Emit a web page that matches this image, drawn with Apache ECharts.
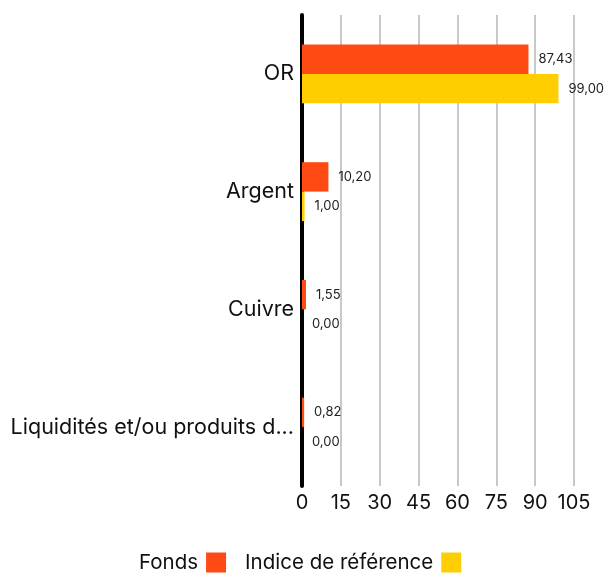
<!DOCTYPE html>
<html><head><meta charset="utf-8">
<script src="https://cdn.jsdelivr.net/npm/echarts@6/dist/echarts.min.js"></script>
<style>html,body{margin:0;padding:0;background:#fff}#c{width:606px;height:581px}</style>
</head><body><div id="c"></div>
<script>
const categories = ["OR", "Argent", "Cuivre", "Liquidités et/ou produits dérivés"];
const fonds = [87.43, 10.20, 1.55, 0.82];
const indice = [99.00, 1.00, 0.00, 0.00];
const xTicks = [0, 15, 30, 45, 60, 75, 90, 105];
const seriesNames = ["Fonds", "Indice de référence"];
const colors = ["#FF4A14", "#FFCE00"];
const FONT = "Inter";

const chart = echarts.init(document.getElementById('c'), null, {renderer: 'canvas'});
const fmt = p => p.value.toFixed(2).replace('.', ',');
const mk = (name, data, color) => ({
  name, type: 'bar', data, barGap: '0%', barCategoryGap: '50%',
  itemStyle: {color},
  label: {show: true, position: 'right', distance: 10, formatter: fmt,
          fontFamily: FONT, fontSize: 13, color: '#222'}
});
chart.setOption({
  animation: false,
  textStyle: {fontFamily: FONT},
  grid: {left: 302, right: 32, top: 15, bottom: 95, containLabel: false},
  xAxis: {
    type: 'value', min: xTicks[0], max: xTicks[xTicks.length - 1], interval: 15,
    axisLine: {show: false}, axisTick: {show: false},
    splitLine: {show: true, lineStyle: {color: '#c8c8c8', width: 2}},
    axisLabel: {fontFamily: FONT, fontSize: 20, color: '#111', margin: 7,
      formatter: v => xTicks.includes(v) ? String(v) : ''}
  },
  yAxis: {
    type: 'category', data: categories, inverse: true,
    axisLine: {show: true, lineStyle: {color: '#000', width: 4}},
    axisTick: {show: false},
    axisLabel: {fontFamily: FONT, fontSize: 21.5, color: '#111', margin: 8,
      padding: [4, 0, 0, 0],
      width: 286, overflow: 'truncate', ellipsis: '...'}
  },
  legend: {
    bottom: 3, left: 134, align: 'right', itemWidth: 20, itemHeight: 20,
    itemGap: 19, icon: 'rect',
    textStyle: {fontFamily: FONT, fontSize: 20.5, color: '#111', padding: [0, 3, 0, 0]},
    data: seriesNames
  },
  series: [mk(seriesNames[0], fonds, colors[0]), mk(seriesNames[1], indice, colors[1])]
});
</script></body></html>
